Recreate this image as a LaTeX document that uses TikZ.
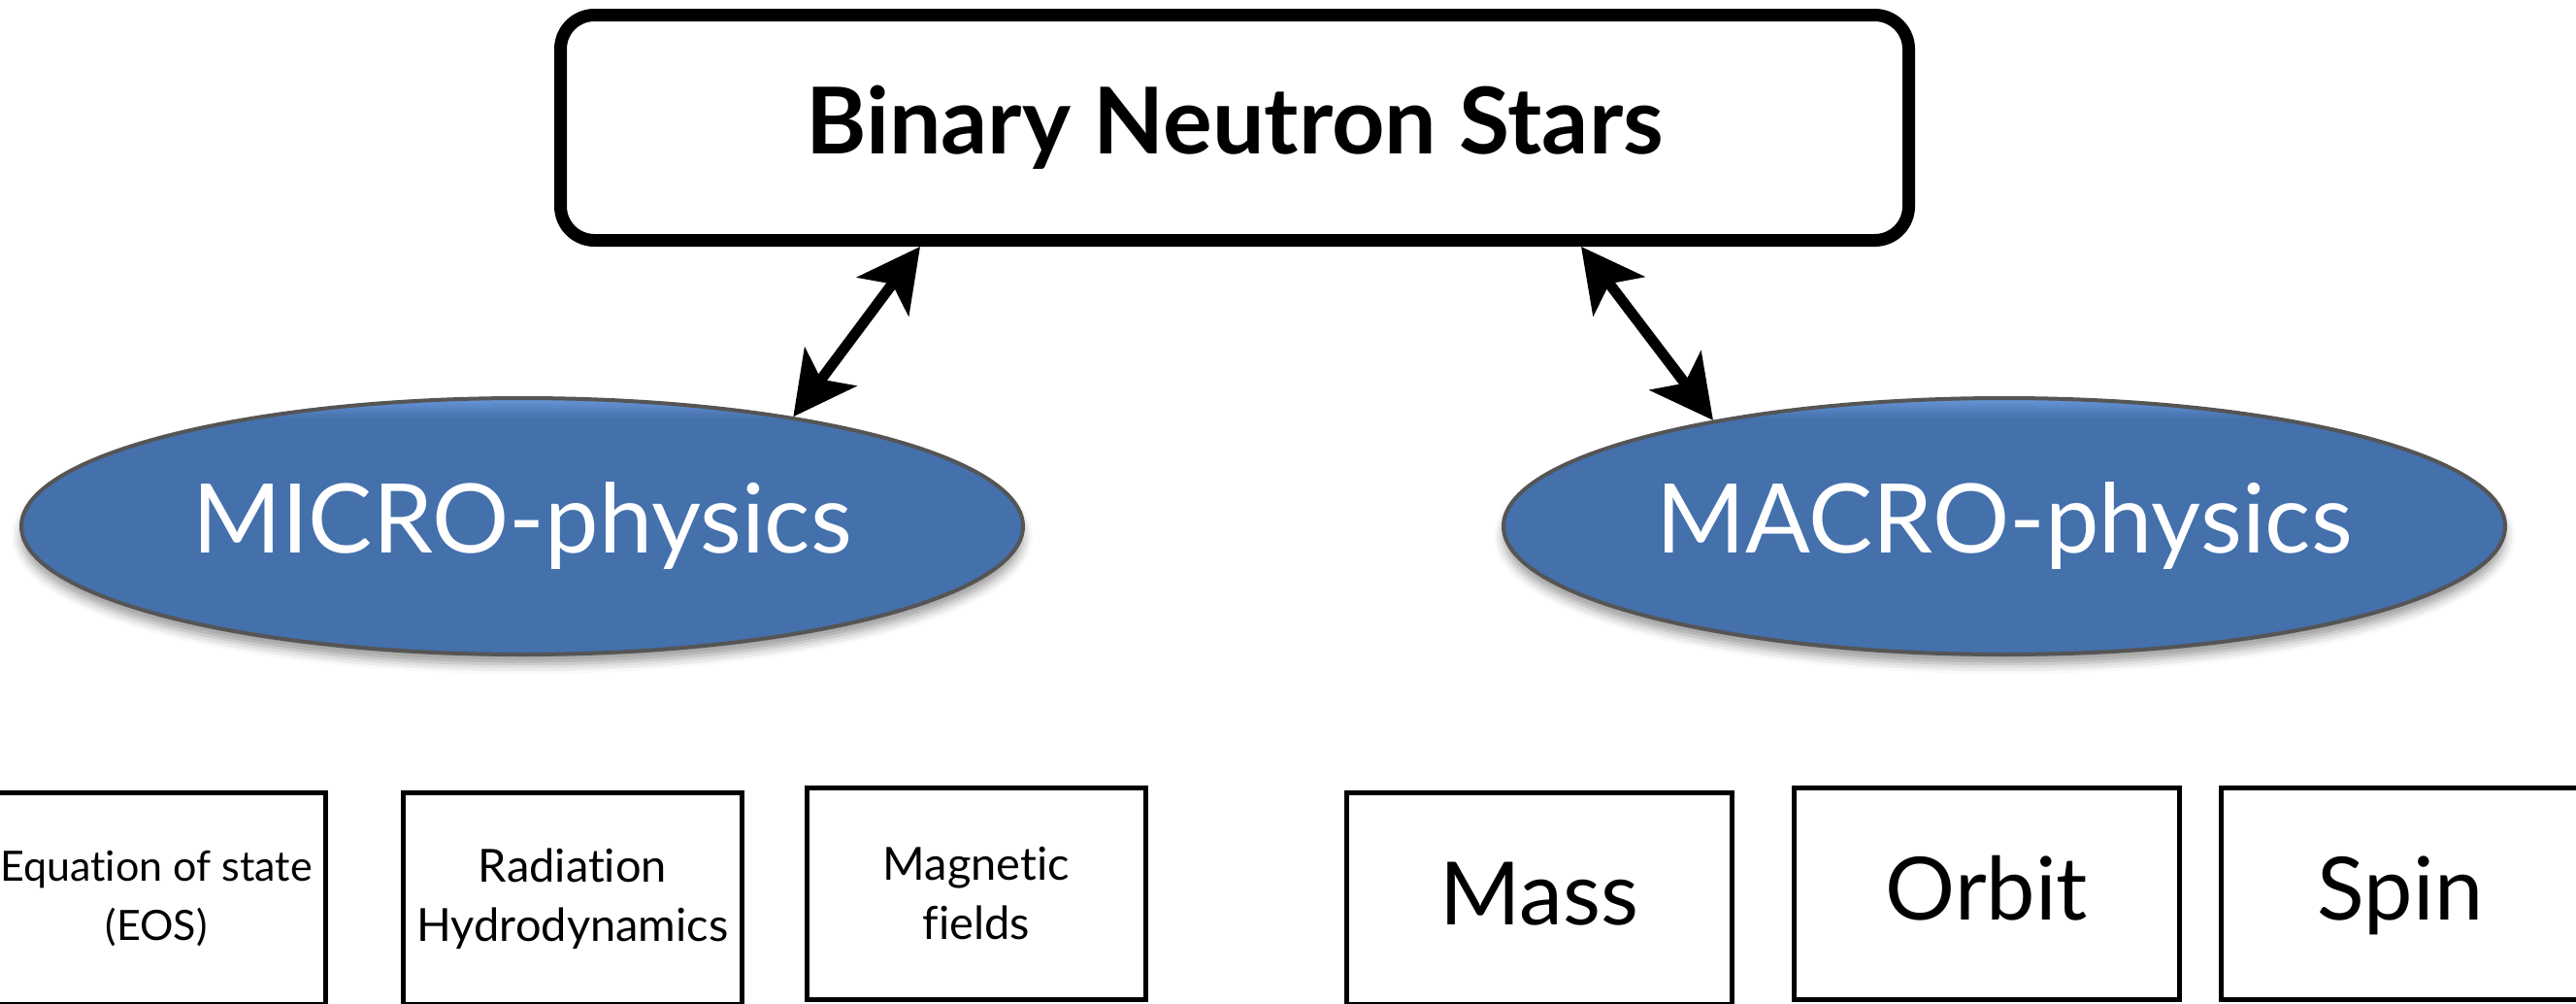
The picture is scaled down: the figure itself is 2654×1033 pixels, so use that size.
\documentclass[tikz,border=0pt]{standalone}
\usepackage{fontspec}
\setmainfont{Lato}[Ligatures=NoCommon]
\usetikzlibrary{arrows.meta,shapes.geometric,shadows.blur}
\definecolor{ellblue}{RGB}{68,112,172}
\definecolor{elllight}{RGB}{100,145,210}
\definecolor{ellline}{RGB}{85,85,85}
\pgfdeclareverticalshading{ellshade}{100bp}{color(0bp)=(ellblue); color(71bp)=(ellblue); color(74.5bp)=(elllight); color(100bp)=(elllight)}
\begin{document}
\begin{tikzpicture}[x=0.5pt,y=-0.5pt,
  titlebox/.style={draw=black, line width=6.5pt, rounded corners=17.5pt, fill=white,
    minimum width=694.5pt, minimum height=116pt, inner sep=0pt,
    font=\fontsize{47.5}{56}\selectfont\bfseries},
  physell/.style={ellipse, draw=ellline, line width=2pt, shading=ellshade,
    minimum width=516pt, minimum height=132pt, inner sep=0pt, text=white,
    font=\fontsize{49.5}{60}\selectfont,
    blur shadow={shadow xshift=0pt, shadow yshift=-5pt, shadow blur radius=5pt, shadow opacity=40}},
  smallbox/.style={draw=black, line width=2.5pt, minimum height=109pt, inner sep=0pt,
    align=center, font=\fontsize{23.5}{30.5}\selectfont},
  bigbox/.style={draw=black, line width=2.5pt, minimum height=109pt, inner sep=0pt,
    font=\fontsize{45}{54}\selectfont, text height=32pt, text depth=5pt},
  biarrow/.style={line width=5.5pt,
    {Stealth[length=32pt,width=33pt,inset=8pt]}-{Stealth[length=32pt,width=33pt,inset=8pt]}}
]
\useasboundingbox (0,0) rectangle (2654,1033);
\clip (0,0) rectangle (2654,1033);

\node[titlebox] (bns) at (1272,131.5) {Binary Neutron Stars};
\node[physell] (micro) at (538,542) {MICRO-physics};
\node[physell] (macro) at (2065,542) {MACRO-physics};

\node[smallbox, minimum width=174.5pt, font=\fontsize{21.5}{30.5}\selectfont] (eos) at (161,925.5) {Equation of state\\(EOS)};
\node[smallbox, minimum width=174.5pt] (rad) at (590,925.5) {Radiation\\Hydrodynamics};
\node[smallbox, minimum width=174.5pt] (mag) at (1006,920.5) {Magnetic\\fields};
\node[bigbox, minimum width=198.5pt] (mass) at (1586,925.5) {Mass};
\node[bigbox, minimum width=198.5pt] (orbit) at (2047,920.5) {Orbit};
\node[bigbox, minimum width=184.5pt] (spin) at (2473,920.5) {Spin};

\draw[biarrow] (micro.22.5) -- ([xshift=-162pt]bns.south);
\draw[biarrow] ([xshift=178.5pt]bns.south) -- (macro.160.3);
\end{tikzpicture}
\end{document}
